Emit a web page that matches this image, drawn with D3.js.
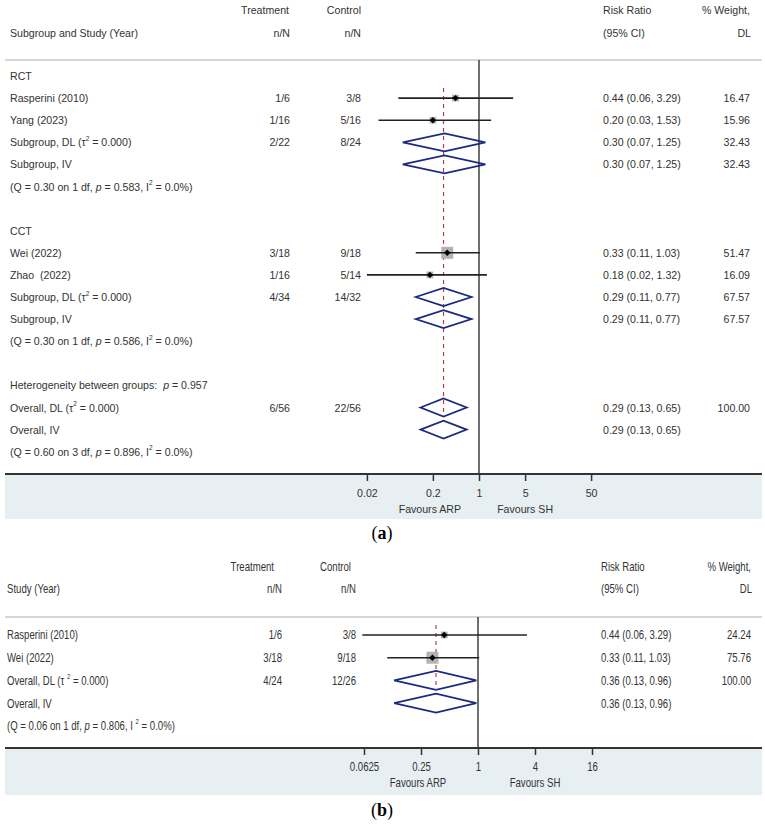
<!DOCTYPE html>
<html>
<head>
<meta charset="utf-8">
<script src="https://cdn.jsdelivr.net/npm/d3@7"></script>
<style>
  body { margin: 0; background: #fff; }
  text { fill: #333; white-space: pre; }
</style>
</head>
<body>
<svg id="chart" width="765" height="824"></svg>
<script>
// ---- panel (a): subgroup analysis, one entry per row ----
const labelsA = [
  "RCT", "Rasperini (2010)", "Yang (2023)", "Subgroup, DL (τ^2 = 0.000)", "Subgroup, IV",
  "(Q = 0.30 on 1 df, *p* = 0.583, I^2 = 0.0%)", "",
  "CCT", "Wei (2022)", "Zhao  (2022)", "Subgroup, DL (τ^2 = 0.000)", "Subgroup, IV",
  "(Q = 0.30 on 1 df, *p* = 0.586, I^2 = 0.0%)", "",
  "Heterogeneity between groups:  *p* = 0.957", "Overall, DL (τ^2 = 0.000)", "Overall, IV",
  "(Q = 0.60 on 3 df, *p* = 0.896, I^2 = 0.0%)"
];
const kindA   = ["", "study", "study", "pooled", "pooled", "", "", "", "study", "study", "pooled", "pooled", "", "", "", "pooled", "pooled", ""];
const treatA  = ["", "1/6", "1/16", "2/22", "", "", "", "", "3/18", "1/16", "4/34", "", "", "", "", "6/56", "", ""];
const ctrlA   = ["", "3/8", "5/16", "8/24", "", "", "", "", "9/18", "5/14", "14/32", "", "", "", "", "22/56", "", ""];
const rrA     = [null, 0.44, 0.20, 0.30, 0.30, null, null, null, 0.33, 0.18, 0.29, 0.29, null, null, null, 0.29, 0.29, null];
const loA     = [null, 0.06, 0.03, 0.07, 0.07, null, null, null, 0.11, 0.02, 0.11, 0.11, null, null, null, 0.13, 0.13, null];
const hiA     = [null, 3.29, 1.53, 1.25, 1.25, null, null, null, 1.03, 1.32, 0.77, 0.77, null, null, null, 0.65, 0.65, null];
const weightA = [null, 16.47, 15.96, 32.43, 32.43, null, null, null, 51.47, 16.09, 67.57, 67.57, null, null, null, 100.00, null, null];
const ticksA = [0.02, 0.2, 1, 5, 50];
const tickLabelsA = ["0.02", "0.2", "1", "5", "50"];
const overallA = 0.29;

// ---- panel (b): direct comparison ----
const labelsB = [
  "Rasperini (2010)", "Wei (2022)", "Overall, DL (τ ^2 = 0.000)", "Overall, IV",
  "(Q = 0.06 on 1 df, *p* = 0.806, I ^2 = 0.0%)"
];
const kindB   = ["study", "study", "pooled", "pooled", ""];
const treatB  = ["1/6", "3/18", "4/24", "", ""];
const ctrlB   = ["3/8", "9/18", "12/26", "", ""];
const rrB     = [0.44, 0.33, 0.36, 0.36, null];
const loB     = [0.06, 0.11, 0.13, 0.13, null];
const hiB     = [3.29, 1.03, 0.96, 0.96, null];
const weightB = [24.24, 75.76, 100.00, null, null];
const ticksB = [0.0625, 0.25, 1, 4, 16];
const tickLabelsB = ["0.0625", "0.25", "1", "4", "16"];
const overallB = 0.36;

const svg = d3.select("#chart");

function rich(sel, str, fs) {
  const parts = str.split(/(\^2|\*p\*)/).filter(p => p !== "");
  let shift = 0;
  parts.forEach(p => {
    const t = sel.append("tspan");
    if (shift) { t.attr("dy", shift); shift = 0; }
    if (p === "^2") {
      t.attr("dy", -fs * 0.4).attr("font-size", fs * 0.62).text("2");
      shift = fs * 0.4;
    } else if (p === "*p*") {
      t.attr("font-style", "italic").text("p");
    } else {
      t.text(p);
    }
  });
}

function drawPanel(c, d) {
  const g = svg.append("g")
    .attr("font-family", c.font)
    .attr("font-size", c.fs);

  const x = d3.scaleLog().domain(c.domain).range(c.range);
  const y = i => c.rowY0 + i * c.rowStep;
  const box = d3.scaleSqrt().domain([0, d3.max(d.kind.map((k, i) => k === "study" ? d.weight[i] : 0))]).range([0, 12]);

  // header
  const head = (tx, ty, s, anchor) => g.append("text").attr("x", tx).attr("y", ty)
    .attr("dominant-baseline", "central").attr("text-anchor", anchor).text(s);
  head(c.treatHeadX, c.head1Y, "Treatment", "end");
  head(c.ctrlHeadX, c.head1Y, "Control", "end");
  head(c.rrX, c.head1Y, "Risk Ratio", "start");
  head(c.wX, c.head1Y, "% Weight,", "end");
  head(c.labelX, c.head2Y, c.firstHead, "start");
  head(c.treatX, c.head2Y, "n/N", "end");
  head(c.ctrlX, c.head2Y, "n/N", "end");
  head(c.rrX, c.head2Y, "(95% CI)", "start");
  head(c.wX + 1, c.head2Y, "DL", "end");

  // bottom band
  g.append("rect").attr("x", 5).attr("y", c.axisY).attr("width", 757)
    .attr("height", c.shadeBottom - c.axisY).attr("fill", "#e7eff2");
  g.append("line").attr("x1", 5).attr("x2", 762).attr("y1", c.sepY).attr("y2", c.sepY)
    .attr("stroke", "#c9c9c9").attr("stroke-width", 1.5);

  // null line and overall line
  g.append("line").attr("x1", x(1)).attr("x2", x(1)).attr("y1", c.sepY).attr("y2", c.axisY)
    .attr("stroke", "#222").attr("stroke-width", 1.3);
  const firstStudy = d.kind.indexOf("study");
  const overallRow = d.labels.findIndex(s => s.startsWith("Overall, DL"));
  g.append("line").attr("x1", x(d.overall)).attr("x2", x(d.overall))
    .attr("y1", y(firstStudy) - 10).attr("y2", y(overallRow) + c.dh)
    .attr("stroke", "#b5403f").attr("stroke-width", 1.2).attr("stroke-dasharray", "4,4");

  // row texts
  d.labels.forEach((s, i) => {
    if (!s) return;
    rich(g.append("text").attr("x", c.labelX).attr("y", y(i)).attr("dominant-baseline", "central"), s, c.fs);
  });
  const col = (arr, cx, anchor) => g.selectAll(null).data(arr.map((v, i) => ({ v, i })).filter(o => o.v !== "" && o.v !== null))
    .join("text").attr("x", cx).attr("y", o => y(o.i)).attr("dominant-baseline", "central")
    .attr("text-anchor", anchor).text(o => typeof o.v === "number" ? o.v.toFixed(2) : o.v);
  col(d.treat, c.treatX, "end");
  col(d.ctrl, c.ctrlX, "end");
  col(d.rr.map((v, i) => v === null ? "" : `${v.toFixed(2)} (${d.lo[i].toFixed(2)}, ${d.hi[i].toFixed(2)})`), c.rrX, "start");
  col(d.weight, c.wX, "end");

  // studies
  d.kind.forEach((k, i) => {
    if (k === "study") {
      const s = box(d.weight[i]);
      g.append("rect").attr("x", x(d.rr[i]) - s / 2).attr("y", y(i) - s / 2)
        .attr("width", s).attr("height", s).attr("fill", "#b3b3b3");
      g.append("line").attr("x1", x(d.lo[i])).attr("x2", x(d.hi[i])).attr("y1", y(i)).attr("y2", y(i))
        .attr("stroke", "#222").attr("stroke-width", 1.6);
      const px = x(d.rr[i]), py = y(i), r = 3.2;
      g.append("path").attr("d", `M${px - r},${py}L${px},${py - r}L${px + r},${py}L${px},${py + r}Z`).attr("fill", "#000");
    } else if (k === "pooled") {
      const px = x(d.rr[i]), py = y(i);
      g.append("path")
        .attr("d", `M${x(d.lo[i])},${py}L${px},${py - c.dh}L${x(d.hi[i])},${py}L${px},${py + c.dh}Z`)
        .attr("fill", "none").attr("stroke", "#1c2a80").attr("stroke-width", 1.8);
    }
  });

  // axis
  const pad = (c.tickLabelY - c.axisY) - 7 - 0.35 * c.fs;
  const ax = g.append("g").attr("transform", `translate(0,${c.axisY})`)
    .call(d3.axisBottom(x).tickValues(d.ticks).tickSize(7).tickPadding(pad)
      .tickFormat((v, i) => d.tickLabels[i]));
  ax.select(".domain").remove();
  ax.selectAll(".tick line").attr("stroke", "#333").attr("stroke-width", 1.5);
  ax.selectAll(".tick text").attr("font-family", c.font).attr("font-size", c.fs).attr("fill", "#333");
  g.append("line").attr("x1", 5).attr("x2", 762).attr("y1", c.axisY).attr("y2", c.axisY)
    .attr("stroke", "#333").attr("stroke-width", 2);

  g.append("text").attr("x", x(c.favL) - 3).attr("y", c.favY).attr("dominant-baseline", "central")
    .attr("text-anchor", "middle").text("Favours ARP");
  g.append("text").attr("x", x(c.favR)).attr("y", c.favY).attr("dominant-baseline", "central")
    .attr("text-anchor", "middle").text("Favours SH");

  // narrow type for panel (b): squeeze each label around its own anchor
  if (c.squeeze !== 1) {
    g.selectAll("text").each(function () {
      const ox = +this.getAttribute("x") || 0;
      d3.select(this).attr("transform", `translate(${ox},0) scale(${c.squeeze},1) translate(${-ox},0)`);
    });
  }

  // caption
  const cap = svg.append("text").attr("x", 382).attr("y", c.titleY).attr("dominant-baseline", "central")
    .attr("text-anchor", "middle").attr("font-family", "'Liberation Serif', 'DejaVu Serif', serif")
    .attr("font-size", 18).style("fill", "#000");
  cap.append("tspan").text("(");
  cap.append("tspan").attr("font-weight", "bold").text(c.tag);
  cap.append("tspan").text(")");
}

drawPanel({
  font: "'Liberation Sans', Arial, sans-serif", fs: 10.6, squeeze: 1,
  head1Y: 10, head2Y: 33, sepY: 60, rowY0: 76, rowStep: 22.1,
  axisY: 474, shadeBottom: 519, tickLabelY: 493, favY: 509, titleY: 533,
  labelX: 10, treatX: 290, ctrlX: 361, treatHeadX: 289, ctrlHeadX: 361, rrX: 603, wX: 750,
  domain: [0.02, 50], range: [366.9, 591.1], dh: 9, favL: 0.2, favR: 5,
  firstHead: "Subgroup and Study (Year)", tag: "a"
}, {
  labels: labelsA, kind: kindA, treat: treatA, ctrl: ctrlA, rr: rrA, lo: loA, hi: hiA,
  weight: weightA, ticks: ticksA, tickLabels: tickLabelsA, overall: overallA
});

drawPanel({
  font: "'Liberation Sans', Arial, sans-serif", fs: 12, squeeze: 0.8,
  head1Y: 567, head2Y: 589, sepY: 617, rowY0: 635, rowStep: 22.7,
  axisY: 748, shadeBottom: 795, tickLabelY: 767, favY: 783, titleY: 810,
  labelX: 7, treatX: 282, ctrlX: 356, treatHeadX: 274, ctrlHeadX: 351, rrX: 601, wX: 751,
  domain: [0.0625, 16], range: [364, 592], dh: 9.5, favL: 0.25, favR: 4,
  firstHead: "Study (Year)", tag: "b"
}, {
  labels: labelsB, kind: kindB, treat: treatB, ctrl: ctrlB, rr: rrB, lo: loB, hi: hiB,
  weight: weightB, ticks: ticksB, tickLabels: tickLabelsB, overall: overallB
});
</script>
</body>
</html>
